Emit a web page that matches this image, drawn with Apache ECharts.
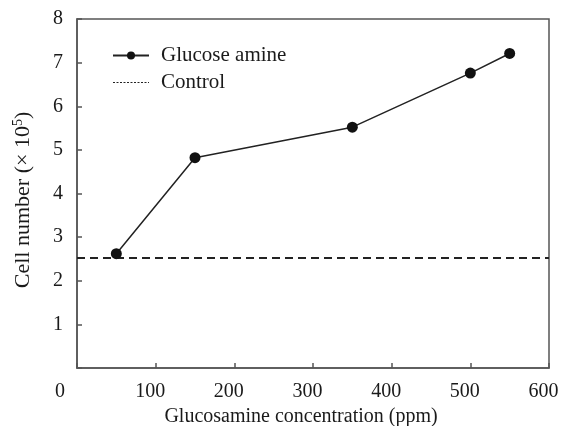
<!DOCTYPE html>
<html><head><meta charset="utf-8">
<script src="https://cdn.jsdelivr.net/npm/echarts@6/dist/echarts.min.js"></script>
<style>html,body{margin:0;padding:0;background:#fff}#c{width:561px;height:426px}</style>
</head><body><div id="c"></div>
<script>
const concentration = [50, 150, 350, 500, 550];
const cellNumber = [2.62, 4.82, 5.52, 6.76, 7.21];
const controlX = [0, 600];
const controlY = [2.52, 2.52];
const xTicks = [0, 100, 200, 300, 400, 500, 600];
const yTicks = [0, 1, 2, 3, 4, 5, 6, 7, 8];

const font = 'Liberation Serif';
const axisColor = '#555';
const txt = '#1a1a1a';
const fs = 20;
const chart = echarts.init(document.getElementById('c'));
chart.setOption({
  animation: false,
  textStyle: {fontFamily: font},
  grid: {left: 77, right: 12, top: 19, bottom: 58, show: true, borderColor: axisColor, borderWidth: 1.5, outerBoundsMode: 'none', containLabel: false},
  legend: {
    orient: 'vertical', left: 107, top: 40, itemWidth: 36, itemHeight: 10, itemGap: 6,
    textStyle: {fontFamily: font, fontSize: 21, color: txt, padding: [0, 0, 0, 7]},
    data: [
      {name: 'Glucose amine'},
      {name: 'Control', itemStyle: {opacity: 0}, lineStyle: {type: [2, 1.5], width: 1.2}}
    ]
  },
  xAxis: {
    type: 'value', min: xTicks[0], max: xTicks[xTicks.length - 1], interval: 100,
    name: 'Glucosamine concentration (ppm)', nameLocation: 'middle', nameGap: 35,
    nameTextStyle: {fontFamily: font, fontSize: fs, color: txt, padding: [0, 24, 0, 0]},
    axisLine: {lineStyle: {color: axisColor, width: 1.5}},
    axisTick: {inside: true, length: 5, lineStyle: {color: axisColor, width: 1.5}},
    splitLine: {show: false},
    axisLabel: {
      fontFamily: font, fontSize: fs, color: txt, margin: 14,
      formatter: v => v === 0 ? '{z|0}' : '{n|' + v + '}',
      rich: {
        z: {fontFamily: font, fontSize: fs, color: txt, padding: [0, 34, 0, 0]},
        n: {fontFamily: font, fontSize: fs, color: txt, padding: [0, 11, 0, 0]}
      }
    }
  },
  yAxis: {
    type: 'value', min: yTicks[0], max: yTicks[yTicks.length - 1], interval: 1,
    name: 'Cell number (× 10{sup|5})', nameLocation: 'middle', nameGap: 42,
    nameTextStyle: {fontFamily: font, fontSize: 22, color: txt, padding: [0, 13, 0, 0],
      rich: {sup: {fontFamily: font, fontSize: 14, color: txt, verticalAlign: 'top', padding: [0, 0, 10, 0]}}},
    axisLine: {lineStyle: {color: axisColor, width: 1.5}},
    axisTick: {inside: true, length: 5, lineStyle: {color: axisColor, width: 1.5}},
    splitLine: {show: false},
    axisLabel: {
      fontFamily: font, fontSize: fs, color: txt, margin: 14,
      formatter: v => v === 0 ? '' : String(v)
    }
  },
  series: [
    {
      name: 'Glucose amine', type: 'line',
      data: concentration.map((x, i) => [x, cellNumber[i]]),
      symbol: 'circle', symbolSize: 11,
      itemStyle: {color: '#111'},
      lineStyle: {color: '#222', width: 1.5}
    },
    {
      name: 'Control', type: 'line',
      data: controlX.map((x, i) => [x, controlY[i]]),
      symbol: 'none',
      itemStyle: {color: '#111'},
      lineStyle: {color: '#222', width: 2, type: [8, 5]}
    }
  ]
});
</script></body></html>
